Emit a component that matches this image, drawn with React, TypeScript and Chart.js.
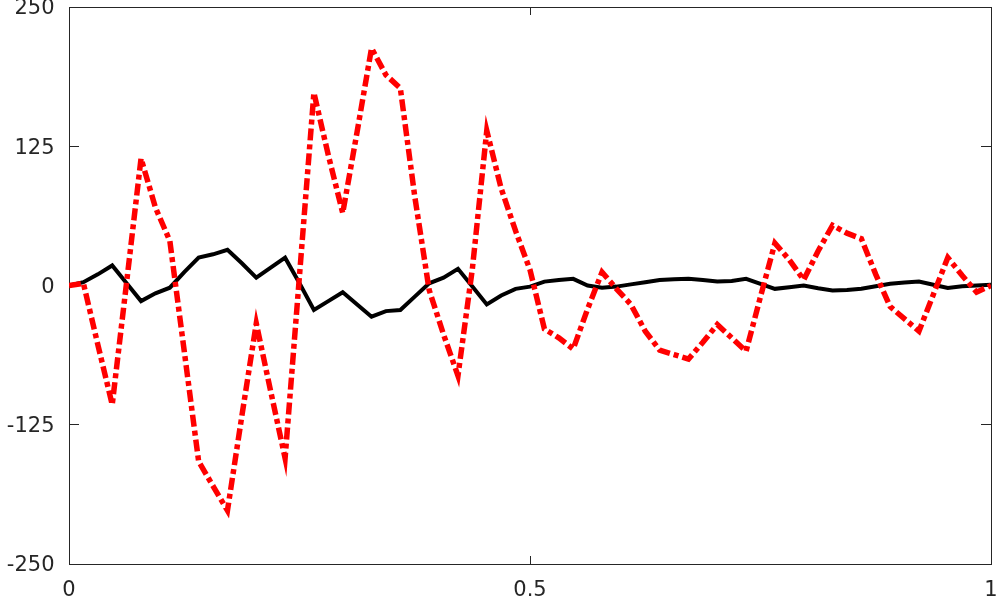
import React, { useEffect, useRef } from 'react';
import { Chart, registerables } from 'chart.js';

Chart.register(...registerables);

// sample positions along the x axis
const xValues = [
  0, 0.015625, 0.03125, 0.046875, 0.0625, 0.078125, 0.09375, 0.109375, 0.125, 0.140625,
  0.15625, 0.171875, 0.1875, 0.203125, 0.21875, 0.234375, 0.25, 0.265625, 0.28125, 0.296875,
  0.3125, 0.328125, 0.34375, 0.359375, 0.375, 0.390625, 0.40625, 0.421875, 0.4375, 0.453125,
  0.46875, 0.484375, 0.5, 0.515625, 0.53125, 0.546875, 0.5625, 0.578125, 0.59375, 0.609375,
  0.625, 0.640625, 0.65625, 0.671875, 0.6875, 0.703125, 0.71875, 0.734375, 0.75, 0.765625,
  0.78125, 0.796875, 0.8125, 0.828125, 0.84375, 0.859375, 0.875, 0.890625, 0.90625, 0.921875,
  0.9375, 0.953125, 0.96875, 0.984375, 1,
];

// black solid series
const blackValues = [
  0, 3, 10, 18, 2, -14, -7, -2, 12, 25,
  28, 32, 20, 7, 16, 25, 2, -22, -14, -6,
  -17, -28, -23, -22, -10, 2, 7, 15, -1, -17,
  -9, -3, -1, 3.5, 5, 6, 0, -2, -1, 1,
  3, 5, 5.5, 6, 5, 3.5, 4, 6, 1.5, -3,
  -1.5, 0, -2.5, -4.5, -4, -3, -0.7, 1.5, 2.7, 3.6,
  0.7, -2.3, -0.7, 0, 0.7,
];

// red dash-dot series
const redValues = [
  0, 2, -53, -107, 3, 114, 70, 40, -59, -158,
  -180, -202, -117, -34, -95, -155, 9, 173, 117, 65,
  138, 213, 189, 177, 80, -4, -44, -81, 15, 139,
  87, 49, 14, -39, -47, -57, -21, 12, -3, -17,
  -41, -58, -62, -66, -51, -35, -47, -59, -10, 38,
  23, 5, 31, 54, 47, 42, 10, -19, -30, -41,
  -8, 25, 9, -6, 0,
];

const xTickValues = [0, 0.5, 1];
const yTickValues = [-250, -125, 0, 125, 250];

const AXIS_COLOR = '#262626';
const TICK_FONT = { family: "'DejaVu Sans', sans-serif", size: 21 };

export default function App() {
  const ref = useRef<HTMLCanvasElement>(null);

  useEffect(() => {
    const canvas = ref.current;
    if (!canvas) return;
    const toPoints = (vals: number[]) => xValues.map((x, i) => ({ x, y: vals[i] }));
    const fixTicks = (vals: number[]) => (scale: any) => {
      scale.ticks = vals.map((v) => ({ value: v }));
    };
    const gridOpts = (len: number) => ({
      display: true,
      drawOnChartArea: false,
      drawTicks: true,
      tickLength: len,
      color: AXIS_COLOR,
      lineWidth: 1,
    });
    const borderOpts = { display: true, color: AXIS_COLOR, width: 1 };

    const chart = new Chart(canvas, {
      type: 'line',
      data: {
        datasets: [
          {
            data: toPoints(redValues),
            borderColor: '#ff0000',
            borderWidth: 5.5,
            borderDash: [12, 4, 5, 4],
            pointRadius: 0,
            pointHoverRadius: 0,
            fill: false,
            tension: 0,
          },
          {
            data: toPoints(blackValues),
            borderColor: '#000000',
            borderWidth: 4,
            pointRadius: 0,
            pointHoverRadius: 0,
            fill: false,
            tension: 0,
          },
        ],
      },
      options: {
        animation: false,
        responsive: false,
        devicePixelRatio: 1,
        events: [],
        layout: { padding: 0 },
        plugins: { legend: { display: false }, tooltip: { enabled: false } },
        scales: {
          x: {
            type: 'linear',
            position: 'bottom',
            min: 0,
            max: 1,
            afterBuildTicks: fixTicks(xTickValues),
            grid: gridOpts(-8),
            border: borderOpts,
            ticks: {
              font: TICK_FONT,
              color: AXIS_COLOR,
              padding: 22,
              maxRotation: 0,
              autoSkip: false,
              callback: (v: any) => String(v),
            },
            afterFit: (s: any) => {
              s.height = 34;
              s.paddingLeft = 0;
              s.paddingRight = 0;
            },
          },
          x2: {
            type: 'linear',
            position: 'top',
            min: 0,
            max: 1,
            afterBuildTicks: fixTicks(xTickValues),
            grid: gridOpts(-8),
            border: borderOpts,
            ticks: { display: false },
            afterFit: (s: any) => {
              s.height = 7;
              s.paddingLeft = 0;
              s.paddingRight = 0;
            },
          },
          y: {
            type: 'linear',
            position: 'left',
            min: -250,
            max: 250,
            afterBuildTicks: fixTicks(yTickValues),
            grid: gridOpts(-10),
            border: borderOpts,
            ticks: {
              font: TICK_FONT,
              color: AXIS_COLOR,
              padding: 24.5,
              labelOffset: 2,
              autoSkip: false,
              callback: (v: any) => String(v),
            },
            afterFit: (s: any) => {
              s.width = 69;
              s.paddingTop = 0;
              s.paddingBottom = 0;
            },
          },
          y2: {
            type: 'linear',
            position: 'right',
            min: -250,
            max: 250,
            afterBuildTicks: fixTicks(yTickValues),
            grid: gridOpts(-10),
            border: borderOpts,
            ticks: { display: false },
            afterFit: (s: any) => {
              s.width = 6;
              s.paddingTop = 0;
              s.paddingBottom = 0;
            },
          },
        },
      },
    } as any);

    return () => chart.destroy();
  }, []);

  return (
    <canvas
      ref={ref}
      width={997}
      height={598}
      style={{ position: 'fixed', left: 0, top: 0, width: 997, height: 598, background: '#ffffff' }}
    />
  );
}
